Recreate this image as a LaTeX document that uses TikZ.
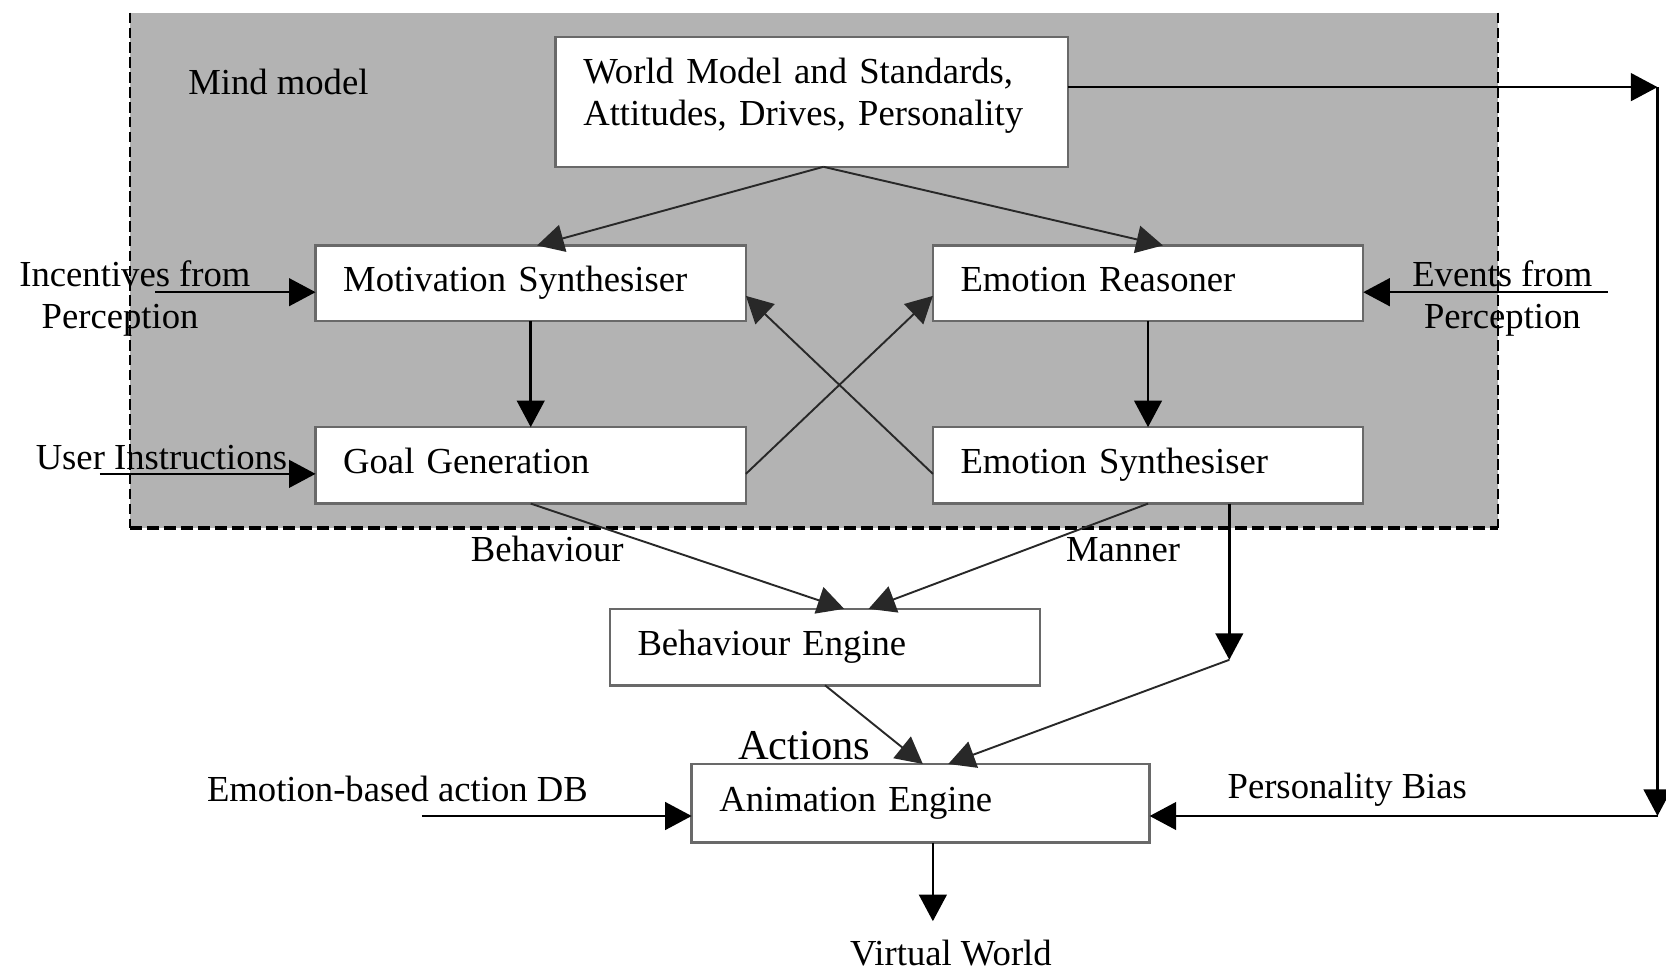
\documentclass[tikz,border=0pt]{standalone}
\usepackage{fontspec}
\setmainfont{Liberation Serif}
\usetikzlibrary{arrows.meta}
\definecolor{mindgray}{RGB}{179,179,179}
\definecolor{boxline}{RGB}{105,105,105}
\definecolor{thinline}{RGB}{40,40,40}
\begin{document}
\begin{tikzpicture}[x=0.5pt, y=-0.5pt,
  font=\fontsize{17.25}{19.5}\selectfont,
  block/.style={draw=boxline, line width=1.2pt, fill=white, anchor=north west,
    align=left, inner xsep=13pt, inner ysep=0pt, outer sep=0pt},
  flow/.style={-{Triangle[length=12.5pt,width=13pt]}, line width=1.2pt},
  thin flow/.style={-{Triangle[length=12.5pt,width=13pt]}, line width=0.9pt, draw=thinline},
  lbl/.style={inner sep=0pt}]
\useasboundingbox (0,0) rectangle (1568,914);

% mind model region
\fill[mindgray] (122,12) rectangle (1410,497);
\draw[line width=1pt, dash pattern=on 5pt off 2pt] (122,12) -- (122,497);
\draw[line width=1pt, dash pattern=on 5pt off 2pt] (1410,12) -- (1410,497);
\draw[line width=1.6pt, dash pattern=on 6pt off 2pt] (122,497) -- (1410,497);
\node[lbl] (mind) at (262,77) {Mind model};

% blocks
\node[block, minimum height=61pt, text width=215pt] (wm) at (523,35)
  {World Model and Standards,\\Attitudes, Drives, Personality\rule[-9.5pt]{0pt}{0pt}};
\node[block, minimum height=35.5pt, text width=176.5pt] (ms) at (297,231) {\strut Motivation Synthesiser};
\node[block, minimum height=35.5pt, text width=176.5pt] (er) at (878,231) {\strut Emotion Reasoner};
\node[block, minimum height=36pt, text width=176.5pt] (gg) at (297,402) {\strut Goal Generation};
\node[block, minimum height=36pt, text width=176.5pt] (es) at (878,402) {\strut Emotion Synthesiser};
\node[block, minimum height=36pt, text width=176.5pt] (be) at (574,573) {\strut Behaviour Engine};
\node[block, minimum height=37pt, text width=189.5pt] (ae) at (651,719) {\strut Animation Engine};

% free labels
\node[lbl, align=left] (inc) at (127,281) {Incentives from\\\hspace*{10.5pt}Perception};
\node[lbl, align=center] (evt) at (1414,281) {Events from\\Perception};
\node[lbl] (usr) at (152,431) {User Instructions};
\node[lbl] (beh) at (515,517) {Behaviour};
\node[lbl] (man) at (1057,517) {Manner};
\node[lbl, font=\fontsize{20}{22}\selectfont] (act) at (757,702) {Actions};
\node[lbl] (db) at (374,743) {Emotion-based action DB};
\node[lbl] (pb) at (1268,743) {Personality Bias};
\node[lbl] (vw) at (895,897) {Virtual World};

% free ends of connectors
\coordinate (incS) at (146,275);
\coordinate (usrS) at (94,446);
\coordinate (evtS) at (1513,275);
\coordinate (pbTop) at (1560,82);
\coordinate (pbBot) at (1560,768);
\coordinate (dbS) at (397,768);
\coordinate (esDrop) at (1157,621);
\coordinate (vwIn) at (878,867);

% inputs
\draw[flow] (incS) -- ([yshift=-4.25pt]ms.west);
\draw[flow] (usrS) -- ([yshift=-4pt]gg.west);
\draw[flow] (evtS) -- ([yshift=-4.25pt]er.east);

% inside the mind model
\draw[thin flow] ([xshift=5.5pt]wm.south) -- ([xshift=3pt]ms.north);
\draw[thin flow] ([xshift=5.5pt]wm.south) -- ([xshift=7pt]er.north);
\draw[flow] (ms.south) -- (gg.north);
\draw[flow] (er.south) -- (es.north);
\draw[thin flow] ([yshift=-4pt]gg.east) -- ([yshift=-6pt]er.west);
\draw[thin flow] ([yshift=-4pt]es.west) -- ([yshift=-6pt]ms.east);

% personality loop
\draw[flow] ([yshift=7pt]wm.east) -- (pbTop);
\draw[flow] (pbTop) -- (pbBot);
\draw[flow] (pbBot) -- ([yshift=-6pt]ae.east);

% behaviour and animation
\draw[thin flow] (gg.south) -- ([xshift=9pt]be.north);
\draw[thin flow] (es.south) -- ([xshift=20.5pt]be.north);
\draw[flow] ([xshift=38.25pt]es.south) -- (esDrop);
\draw[thin flow] (esDrop) -- ([xshift=13pt]ae.north);
\draw[thin flow] (be.south) -- ([xshift=1pt]ae.north);
\draw[flow] (dbS) -- ([yshift=-6pt]ae.west);
\draw[flow] ([xshift=5.75pt]ae.south) -- (vwIn);
\end{tikzpicture}
\end{document}
